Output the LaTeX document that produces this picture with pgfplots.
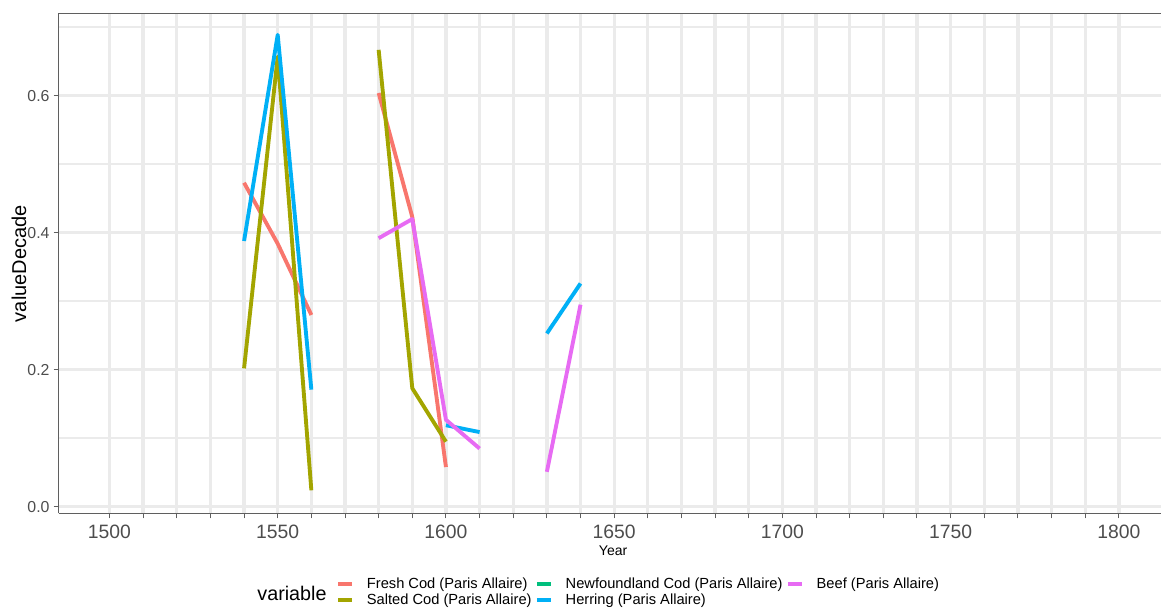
\documentclass[border=0pt]{standalone}
\usepackage{fontspec}
\setmainfont{Liberation Sans}
\usepackage{pgfplots}
\pgfplotsset{compat=1.18}

\definecolor{cFresh}{HTML}{F8766D}
\definecolor{cSalted}{HTML}{A3A500}
\definecolor{cNewf}{HTML}{00BF7D}
\definecolor{cHerring}{HTML}{00B0F6}
\definecolor{cBeef}{HTML}{E76BF3}
\definecolor{gridgray}{HTML}{EBEBEB}
\definecolor{axgray}{HTML}{5F5F5F}
\definecolor{ticktext}{HTML}{4D4D4D}

\begin{document}
\begin{tikzpicture}
\begin{axis}[
    at={(0,0)}, anchor=south west,
    scale only axis,
    width=826.7pt, height=375.2pt,
    xmin=1484.9, xmax=1812.5,
    ymin=-0.0096, ymax=0.7207,
    axis x line*=bottom, axis y line*=left,
    axis line style={-, axgray, line width=0.75pt},
    xtick={1500,1510,...,1800},
    xticklabels={1500,,,,,1550,,,,,1600,,,,,1650,,,,,1700,,,,,1750,,,,,1800},
    ytick={0,0.2,0.4,0.6},
    yticklabels={0.0,0.2,0.4,0.6},
    minor ytick={0.1,0.3,0.5,0.7},
    tick align=outside,
    major tick length=3.75pt, minor tick length=0pt,
    tick style={axgray, line width=0.75pt},
    xmajorgrids, ymajorgrids, yminorgrids,
    major grid style={gridgray, line width=2.5pt},
    minor grid style={gridgray, line width=1.25pt},
    xticklabel style={font=\fontsize{14.5}{16}\selectfont, text=ticktext, anchor=center, yshift=-10pt},
    yticklabel style={font=\fontsize{11.9}{13}\selectfont, text=ticktext, anchor=east, inner sep=0pt, xshift=-2.9pt},
    xlabel={Year},
    xlabel style={font=\fontsize{10.5}{12}\selectfont, at={(axis description cs:0.503,0)}, anchor=center, yshift=-28.3pt},
    ylabel={valueDecade},
    ylabel style={font=\fontsize{15}{17}\selectfont, at={(axis description cs:0,0.499)}, anchor=center, yshift=29.8pt},
    unbounded coords=jump,
    every axis plot/.append style={line width=2.9pt, line cap=butt, line join=round},
    legend columns=2, transpose legend,
    legend cell align=left,
    legend image code/.code={\draw[#1, line width=2.9pt] (0pt,0pt) -- (10.5pt,0pt);},
    legend style={at={(0,0)}, anchor=north west, xshift=208pt, yshift=-47.5pt,
        draw=none, fill=none, inner sep=0pt, row sep=1.5pt,
        nodes={inner sep=0.6pt, font=\fontsize{11}{13}\selectfont},
        /tikz/every even column/.append style={column sep=2pt},
        /tikz/every odd column/.append style={column sep=9pt}},
]

\addplot[cFresh] coordinates {(1540,0.473)(1550,0.384)(1560,0.280)(1570,nan)(1580,0.604)(1590,0.423)(1600,0.058)};
\addlegendentry{Fresh Cod (Paris Allaire)}

\addplot[cSalted] coordinates {(1540,0.202)(1550,0.657)(1560,0.024)(1570,nan)(1580,0.667)(1590,0.173)(1600,0.095)};
\addlegendentry{Salted Cod (Paris Allaire)}

\addlegendimage{cNewf}
\addlegendentry{Newfoundland Cod (Paris Allaire)}

\addplot[cHerring] coordinates {(1540,0.388)(1550,0.689)(1560,0.171)(1570,nan)(1600,0.119)(1610,0.109)(1620,nan)(1630,0.253)(1640,0.326)};
\addlegendentry{Herring (Paris Allaire)}

\addplot[cBeef] coordinates {(1580,0.392)(1590,0.420)(1600,0.127)(1610,0.085)(1620,nan)(1630,0.051)(1640,0.295)};
\addlegendentry{Beef (Paris Allaire)}

\end{axis}
\draw[axgray, line width=0.75pt] (0pt,375.2pt) -- (826.7pt,375.2pt);
\node[font=\fontsize{14.8}{16}\selectfont, anchor=center] at (175pt,-59.8pt) {variable};
\pgfresetboundingbox
\path[use as bounding box] (-44pt,-71pt) rectangle (826.75pt,385pt);
\end{tikzpicture}
\end{document}
